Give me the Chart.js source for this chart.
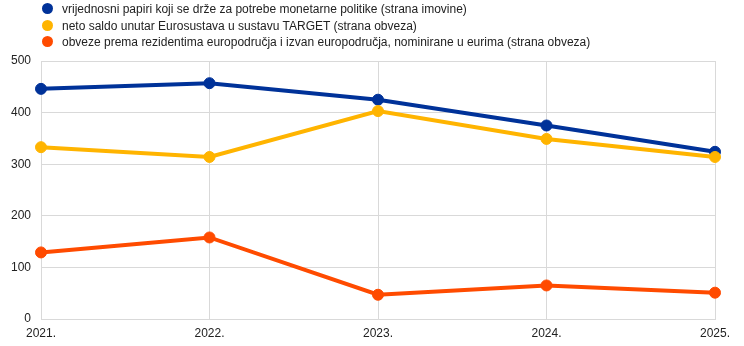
<!DOCTYPE html>
<html>
<head>
<meta charset="utf-8">
<script src="https://cdn.jsdelivr.net/npm/chart.js@4"></script>
<style>
  html, body { margin: 0; padding: 0; background: #fff; }
  #wrap { position: relative; width: 744px; height: 346px; }
  #legend { position: absolute; left: 42px; top: 1px; font: 12px "Liberation Sans", Arial, sans-serif; color: #222; }
  #legend div { height: 16.5px; line-height: 16.5px; white-space: nowrap; }
  #legend span.dot { display: inline-block; width: 11px; height: 11px; border-radius: 50%; vertical-align: -1px; margin-right: 9px; }
</style>
</head>
<body>
<div id="wrap">
  <canvas id="chart" width="744" height="346"></canvas>
  <div id="legend"></div>
</div>
<script>
// data
const years = ['2021.', '2022.', '2023.', '2024.', '2025.'];
const securities = [446, 457, 425, 375, 324];
const targetBalance = [333, 314, 403, 349, 314];
const euroLiabilities = [129, 158, 47, 65, 51];

const seriesNames = [
    'vrijednosni papiri koji se drže za potrebe monetarne politike (strana imovine)',
    'neto saldo unutar Eurosustava u sustavu TARGET (strana obveza)',
    'obveze prema rezidentima europodručja i izvan europodručja, nominirane u eurima (strana obveza)'
];
const colors = ['#003299', '#ffb400', '#ff4b00'];
const seriesData = [securities, targetBalance, euroLiabilities];

// legend (one entry per row)
const legendEl = document.getElementById('legend');
seriesNames.forEach((name, i) => {
    const row = document.createElement('div');
    row.innerHTML = `<span class="dot" style="background:${colors[i]}"></span>${name}`;
    legendEl.appendChild(row);
});

const gridColor = '#d9d9d9';
const font = { family: '"Liberation Sans", Arial, sans-serif', size: 12 };

new Chart(document.getElementById('chart'), {
    type: 'line',
    data: {
        labels: years,
        datasets: seriesData.map((d, i) => ({
            label: seriesNames[i],
            data: d,
            borderColor: colors[i],
            backgroundColor: colors[i],
            borderWidth: 4,
            pointRadius: 5.5,
            pointBorderWidth: 1,
            pointHoverRadius: 5.5,
            tension: 0,
            fill: false,
            order: 3 - i
        }))
    },
    options: {
        responsive: false,
        animation: false,
        layout: { padding: { top: 61, right: 29, left: 0, bottom: 0 } },
        plugins: { legend: { display: false }, tooltip: { enabled: false } },
        scales: {
            x: {
                grid: { color: gridColor, drawTicks: false },
                border: { color: gridColor },
                ticks: { color: '#222', font: font, padding: 7, maxRotation: 0 },
                afterFit: s => { s.height = 27; }
            },
            y: {
                min: 0,
                max: 500,
                grid: { color: gridColor, drawTicks: false },
                border: { color: gridColor },
                ticks: { stepSize: 100, color: '#222', font: font, padding: 10 },
                afterFit: s => { s.width = 41; }
            }
        }
    }
});
</script>
</body>
</html>
